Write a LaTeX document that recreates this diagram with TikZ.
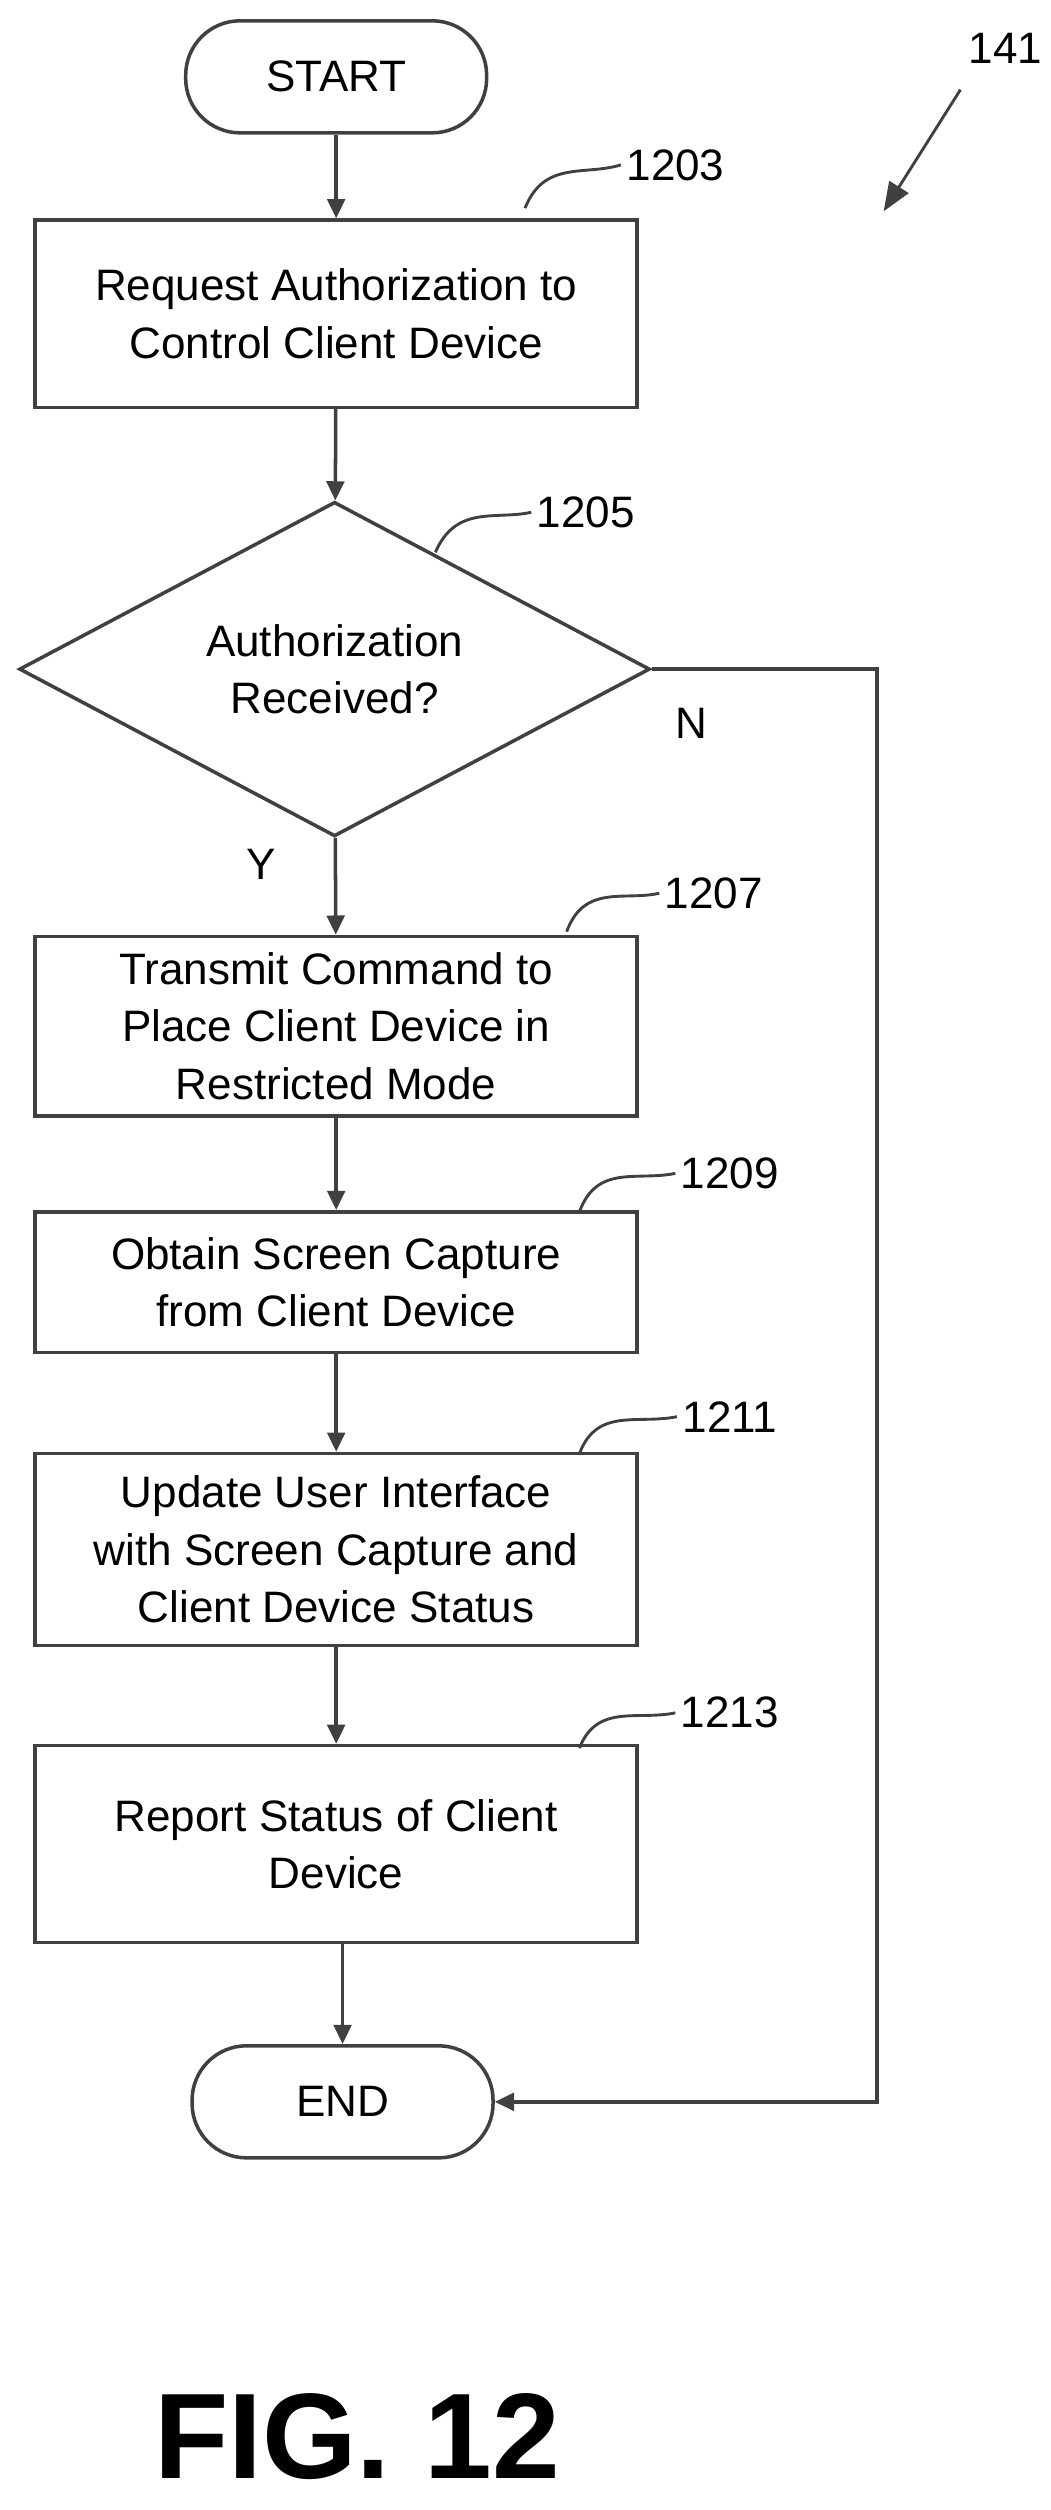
\documentclass[tikz,border=0pt]{standalone}
\usepackage{fontspec}
\setmainfont{Liberation Sans}
\usetikzlibrary{shapes.geometric,arrows.meta}
\begin{document}
\begin{tikzpicture}[x=1pt,y=-1pt,
  line/.style={draw=black!75,line width=2.2pt},
  arr/.style={line,-{Triangle[length=12pt,width=11pt]}},
  box/.style={line,rectangle,minimum width=376pt,align=center,font=\fontsize{27.5}{36}\selectfont},
  term/.style={line,rounded corners=34pt,minimum width=188pt,minimum height=70pt,font=\fontsize{27.5}{30}\selectfont},
  lab/.style={font=\fontsize{27.5}{30}\selectfont},
  lead/.style={draw=black!75,line width=1.8pt}]
\useasboundingbox (0,0) rectangle (656,1568);
\node[term] (start) at (210,48) {START};
\node[box,minimum height=117pt] (b1203) at (210,196) {Request Authorization to\\Control Client Device};
\node[line,diamond,aspect=1.885,minimum width=394pt,minimum height=209pt,inner sep=0pt,align=center,font=\fontsize{27.5}{36}\selectfont] (d1205) at (209,418) {Authorization\\Received?};
\node[box,minimum height=112pt] (b1207) at (210,641) {Transmit Command to\\Place Client Device in\\Restricted Mode};
\node[box,minimum height=88pt] (b1209) at (210,801) {Obtain Screen Capture\\from Client Device};
\node[box,minimum height=120pt] (b1211) at (210,968) {Update User Interface\\with Screen Capture and\\Client Device Status};
\node[box,minimum height=123pt] (b1213) at (210,1152) {Report Status of Client\\Device};
\node[term] (end) at (214,1313) {END};
\draw[arr] (start) -- (b1203);
\draw[arr] (b1203) -- (d1205);
\draw[arr] (d1205) -- (b1207);
\draw[arr] (b1207) -- (b1209);
\draw[arr] (b1209) -- (b1211);
\draw[arr] (b1211) -- (b1213);
\draw[arr] (b1213.south -| end) -- (end);
\coordinate (c1) at (548,418);
\coordinate (c2) at (548,1313);
\draw[arr] (d1205.east) -- (c1) -- (c2) -- (end.east);
\node[lab] (n) at (432,452) {N};
\node[lab] (y) at (163,540) {Y};
\node[lab] (l1203) at (422,103) {1203};
\node[lab] (l1205) at (366,320) {1205};
\node[lab] (l1207) at (446,558) {1207};
\node[lab] (l1209) at (456,733) {1209};
\node[lab] (l1211) at (456,885) {1211};
\node[lab] (l1213) at (456,1070) {1213};
\node[lab] (l141) at (628,30) {141};
\coordinate (p1) at (328,130);
\coordinate (p2) at (272,345);
\coordinate (p3) at (354,582);
\coordinate (p4) at (362,757);
\coordinate (p5) at (362,908);
\coordinate (p6) at (362,1092);
\draw[lead] (p1) .. controls (340,100) and (365,110) .. (l1203.west);
\draw[lead] (p2) .. controls (285,315) and (310,325) .. (l1205.west);
\draw[lead] (p3) .. controls (365,552) and (390,563) .. (l1207.west);
\draw[lead] (p4) .. controls (373,727) and (398,738) .. (l1209.west);
\draw[lead] (p5) .. controls (373,879) and (398,890) .. (l1211.west);
\draw[lead] (p6) .. controls (373,1064) and (398,1075) .. (l1213.west);
\coordinate (a141) at (552,132);
\draw[lead,-{Triangle[length=18pt,width=14pt]}] (600,56) -- (a141);
\node[font=\fontsize{76}{80}\selectfont\bfseries] (fig) at (223,1522) {FIG. 12};
\end{tikzpicture}
\end{document}
